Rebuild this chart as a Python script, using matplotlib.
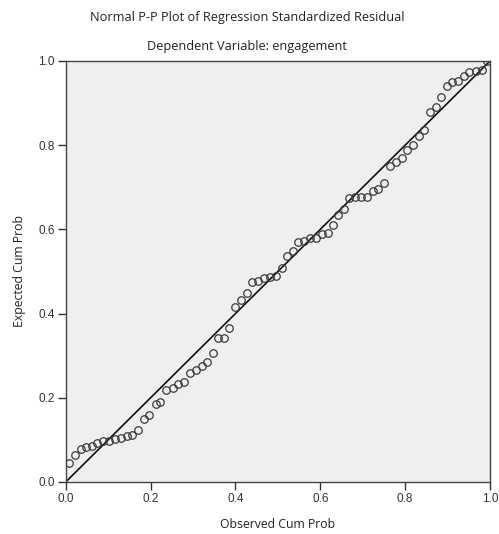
#
# Normal P-P plot of regression standardized residual
#

import matplotlib
matplotlib.use('Agg')
import matplotlib.pyplot as plt

# observed vs expected cumulative probabilities
obsCum = [0.008, 0.022, 0.035, 0.048, 0.061, 0.074, 0.089, 0.103, 0.116, 0.130,
          0.144, 0.156, 0.171, 0.185, 0.197, 0.212, 0.222, 0.237, 0.252, 0.265,
          0.279, 0.294, 0.306, 0.321, 0.334, 0.346, 0.360, 0.373, 0.386, 0.399,
          0.412, 0.427, 0.439, 0.454, 0.467, 0.481, 0.496, 0.509, 0.521, 0.536,
          0.548, 0.562, 0.576, 0.589, 0.603, 0.617, 0.629, 0.642, 0.656, 0.668,
          0.682, 0.696, 0.711, 0.724, 0.737, 0.750, 0.765, 0.778, 0.792, 0.805,
          0.818, 0.833, 0.844, 0.859, 0.872, 0.885, 0.898, 0.911, 0.925, 0.939,
          0.951, 0.967, 0.980, 0.992]
expCum = [0.046, 0.064, 0.078, 0.084, 0.085, 0.093, 0.097, 0.098, 0.102, 0.105,
          0.109, 0.112, 0.124, 0.150, 0.159, 0.186, 0.190, 0.218, 0.224, 0.233,
          0.238, 0.260, 0.265, 0.276, 0.286, 0.306, 0.341, 0.343, 0.365, 0.415,
          0.432, 0.450, 0.476, 0.477, 0.484, 0.486, 0.489, 0.508, 0.536, 0.549,
          0.571, 0.572, 0.579, 0.580, 0.589, 0.591, 0.610, 0.634, 0.648, 0.674,
          0.676, 0.677, 0.678, 0.691, 0.696, 0.709, 0.751, 0.761, 0.769, 0.789,
          0.800, 0.822, 0.836, 0.880, 0.891, 0.915, 0.941, 0.951, 0.952, 0.964,
          0.975, 0.976, 0.979, 0.999]
diagLine = [0.0, 1.0]
ticks = [0.0, 0.2, 0.4, 0.6, 0.8, 1.0]
tickLabels = ['0.0', '0.2', '0.4', '0.6', '0.8', '1.0']

plt.rcParams['font.family'] = ['Open Sans', 'DejaVu Sans']

fig = plt.figure(figsize=[4.99, 5.34], dpi=100, facecolor='white')
ax = fig.add_axes([0.1317, 0.0974, 0.8503, 0.7884])
ax.set_facecolor('#efefef')

ax.plot(diagLine, diagLine, '-', color='#111111', linewidth=1.2, zorder=2)
ax.plot(obsCum, expCum, 'o', markersize=5.4, markerfacecolor='none',
        markeredgecolor='#3a3a3a', markeredgewidth=0.9, zorder=3)

ax.set_xlim(0, 1)
ax.set_ylim(0, 1)
ax.set_xticks(ticks)
ax.set_xticklabels(tickLabels, family='Liberation Sans')
ax.set_yticks(ticks)
ax.set_yticklabels(tickLabels, family='Liberation Sans')
ax.tick_params(axis='both', direction='out', length=6, width=1,
               colors='#333333', labelsize=8.5, labelcolor='#333333', pad=2)
for side in ['top', 'bottom', 'left', 'right']:
    ax.spines[side].set_color('#444444')
    ax.spines[side].set_linewidth(1)

ax.set_xlabel('Observed Cum Prob', fontsize=8.8, color='#222222', labelpad=9)
ax.set_ylabel('Expected Cum Prob', fontsize=8.8, color='#222222', labelpad=9)

fig.text(0.495, 0.968, 'Normal P-P Plot of Regression Standardized Residual',
         ha='center', va='center', fontsize=9.2, color='#222222')
fig.text(0.495, 0.912, 'Dependent Variable: engagement',
         ha='center', va='center', fontsize=9.2, color='#222222')

plt.savefig('out.png', dpi=100, facecolor='white')
